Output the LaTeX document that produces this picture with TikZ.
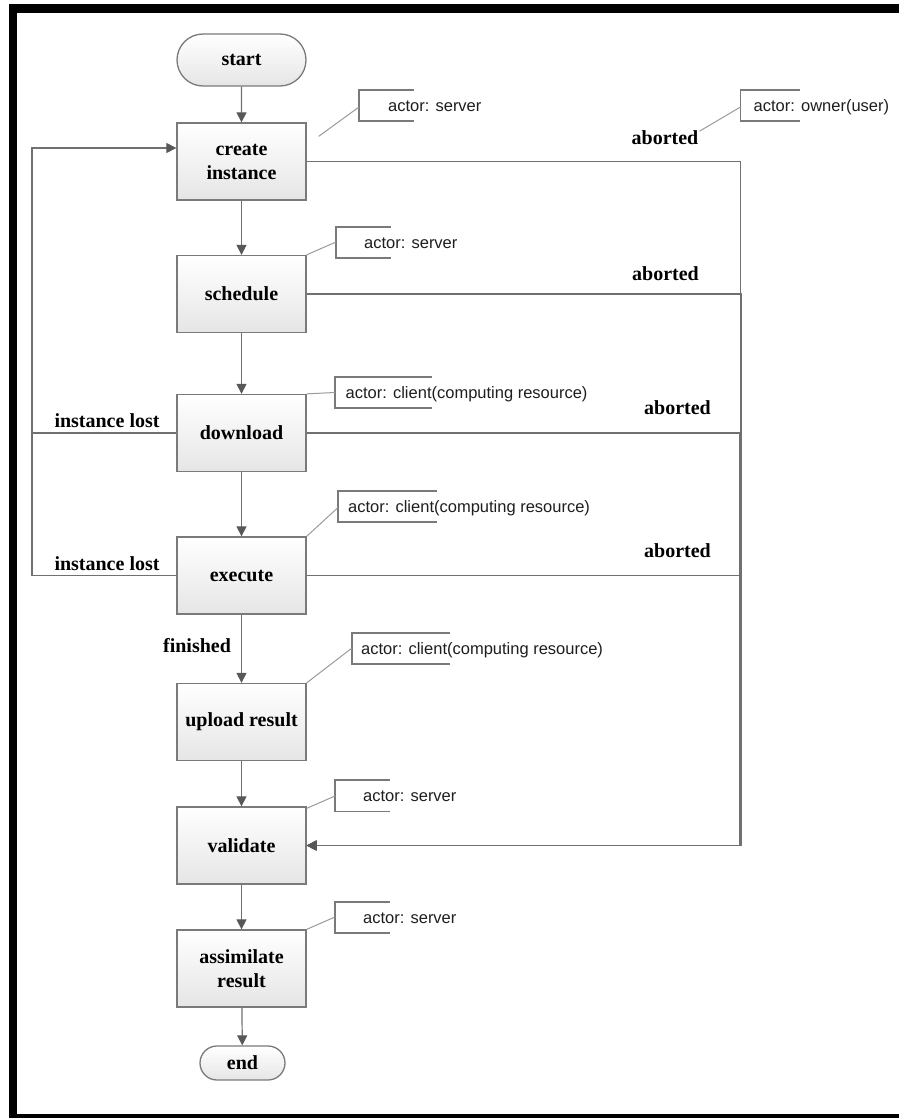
\documentclass[tikz,border=0pt]{standalone}
\usepackage{fontspec}
\setmainfont{Liberation Serif}
\newfontfamily\actorfont{Liberation Sans}
\usetikzlibrary{arrows.meta,calc,shapes.misc}

\definecolor{boxgray}{HTML}{7A7A7A}
\definecolor{linegray}{HTML}{707070}
\definecolor{tipgray}{HTML}{585858}
\definecolor{pingray}{HTML}{9A9A9A}
\definecolor{actorink}{HTML}{1E1E1E}

\begin{document}
\begin{tikzpicture}[x=1pt,y=-1pt,
  stepbox/.style={draw=boxgray, line width=1.3pt, top color=white, bottom color=black!10,
    minimum width=129pt, minimum height=77pt, inner sep=0pt, align=center,
    font=\fontsize{20}{24}\selectfont\bfseries},
  terminal/.style={rounded rectangle, draw=boxgray, line width=1.3pt, top color=white,
    bottom color=black!10, inner sep=0pt, font=\fontsize{20}{24}\selectfont\bfseries},
  flow/.style={draw=linegray, line width=1.2pt},
  arr/.style={flow, -{Triangle[length=10pt,width=10pt,color=tipgray]}},
  edgelabel/.style={inner sep=0pt, anchor=base, font=\fontsize{20}{24}\selectfont\bfseries},
  actortext/.style={inner sep=0pt, anchor=base west, text=actorink,
    font=\actorfont\fontsize{16.5}{19}\selectfont},
  bracket/.style={draw=boxgray, line width=1.2pt},
  pin/.style={draw=pingray, line width=1pt}
]
\useasboundingbox (0,0) rectangle (899,1118);

% frame
\fill[black] (9,4) rectangle (899,13);
\fill[black] (9,4) rectangle (17,1118);
\fill[black] (9,1114) rectangle (899,1118);

% steps
\node[terminal, minimum width=129pt, minimum height=52pt] (start) at (241.5,60) {start};
\node[stepbox] (create)   at (241.5,161.5) {create\\instance};
\node[stepbox] (schedule) at (241.5,294)   {schedule};
\node[stepbox] (download) at (241.5,433)   {download};
\node[stepbox] (execute)  at (241.5,575.5) {execute};
\node[stepbox] (upload)   at (241.5,722)   {upload result};
\node[stepbox] (validate) at (241.5,845.5) {validate};
\node[stepbox] (assim)    at (241.5,968.5) {assimilate\\result};
\node[terminal, minimum width=85pt, minimum height=34pt] (end) at (242.5,1063) {end};

% main sequence
\draw[arr] (start) -- (create);
\draw[arr] (create) -- (schedule);
\draw[arr] (schedule) -- (download);
\draw[arr] (download) -- (execute);
\draw[arr] (execute) -- (upload);
\draw[arr] (upload) -- (validate);
\draw[arr] (validate) -- (assim);
\draw[arr] (assim) -- (end);

% instance lost: back to create instance
\coordinate (lostrail) at (32,433);
\coordinate (createin) at ($(create.west)+(0,-13.5)$);
\draw[flow] (execute.west) -| (lostrail);
\draw[arr] (download.west) -- (lostrail) |- (createin);

% aborted: on to validate
\coordinate (abortrail) at (740.5,845.5);
\draw[arr] (create.east) -| (abortrail) -- (validate.east);
\draw[arr] (schedule.east) -| ([xshift=1.1pt]abortrail) -- (validate.east);
\draw[arr] (download.east) -| ([xshift=-0.9pt]abortrail) -- (validate.east);
\draw[arr] (execute.east) -| ([xshift=0.4pt]abortrail) -- (validate.east);

% edge labels
\node[edgelabel] (ab1) at (665,145) {aborted};
\node[edgelabel] (ab2) at (665.5,280) {aborted};
\node[edgelabel] (ab3) at (677.5,414.5) {aborted};
\node[edgelabel] (ab4) at (677.5,557) {aborted};
\node[edgelabel] (lost1) at (107,427.5) {instance lost};
\node[edgelabel] (lost2) at (107,570) {instance lost};
\node[edgelabel] (fin) at (197,652.5) {finished};

% actors
% create instance
\draw[bracket] (414,90) -- (359,90) -- (359,121) -- (414,121);
\node[actortext] (act1) at (388,111.5) {actor: server};
\coordinate (pin1) at (359,107);
\draw[pin] ($(create.north east)+(12,14)$) -- (pin1);
% owner
\draw[bracket] (800,90) -- (740.5,90) -- (740.5,121) -- (800,121);
\node[actortext] (act0) at (753.5,111.5) {actor: owner(user)};
\coordinate (pin0) at (740.5,107);
\draw[pin] ($(ab1.east)+(1,-7)$) -- (pin0);
% schedule
\draw[bracket] (391,227) -- (336,227) -- (336,258) -- (391,258);
\node[actortext] (act2) at (364,248.5) {actor: server};
\coordinate (pin2) at (336,242);
\draw[pin] (schedule.north east) -- (pin2);
% download
\draw[bracket] (432,377) -- (335,377) -- (335,408) -- (432,408);
\node[actortext] (act3) at (345.5,398.5) {actor: client(computing resource)};
\coordinate (pin3) at (335,392.5);
\draw[pin] (download.north east) -- (pin3);
% execute
\draw[bracket] (437,491) -- (338,491) -- (338,522) -- (437,522);
\node[actortext] (act4) at (348,512.5) {actor: client(computing resource)};
\coordinate (pin4) at (338,507.5);
\draw[pin] (execute.north east) -- (pin4);
% upload result
\draw[bracket] (450,633) -- (352,633) -- (352,664) -- (450,664);
\node[actortext] (act5) at (361,654.5) {actor: client(computing resource)};
\coordinate (pin5) at (352,648);
\draw[pin] (upload.north east) -- (pin5);
% validate
\draw[bracket] (390,780) -- (335,780) -- (335,811.5) -- (390,811.5);
\node[actortext] (act6) at (363,801) {actor: server};
\coordinate (pin6) at (335,796);
\draw[pin] ($(validate.north east)+(0,2)$) -- (pin6);
% assimilate result
\draw[bracket] (390,902) -- (335,902) -- (335,933) -- (390,933);
\node[actortext] (act7) at (363,923) {actor: server};
\coordinate (pin7) at (335,917);
\draw[pin] (assim.north east) -- (pin7);
\end{tikzpicture}
\end{document}
